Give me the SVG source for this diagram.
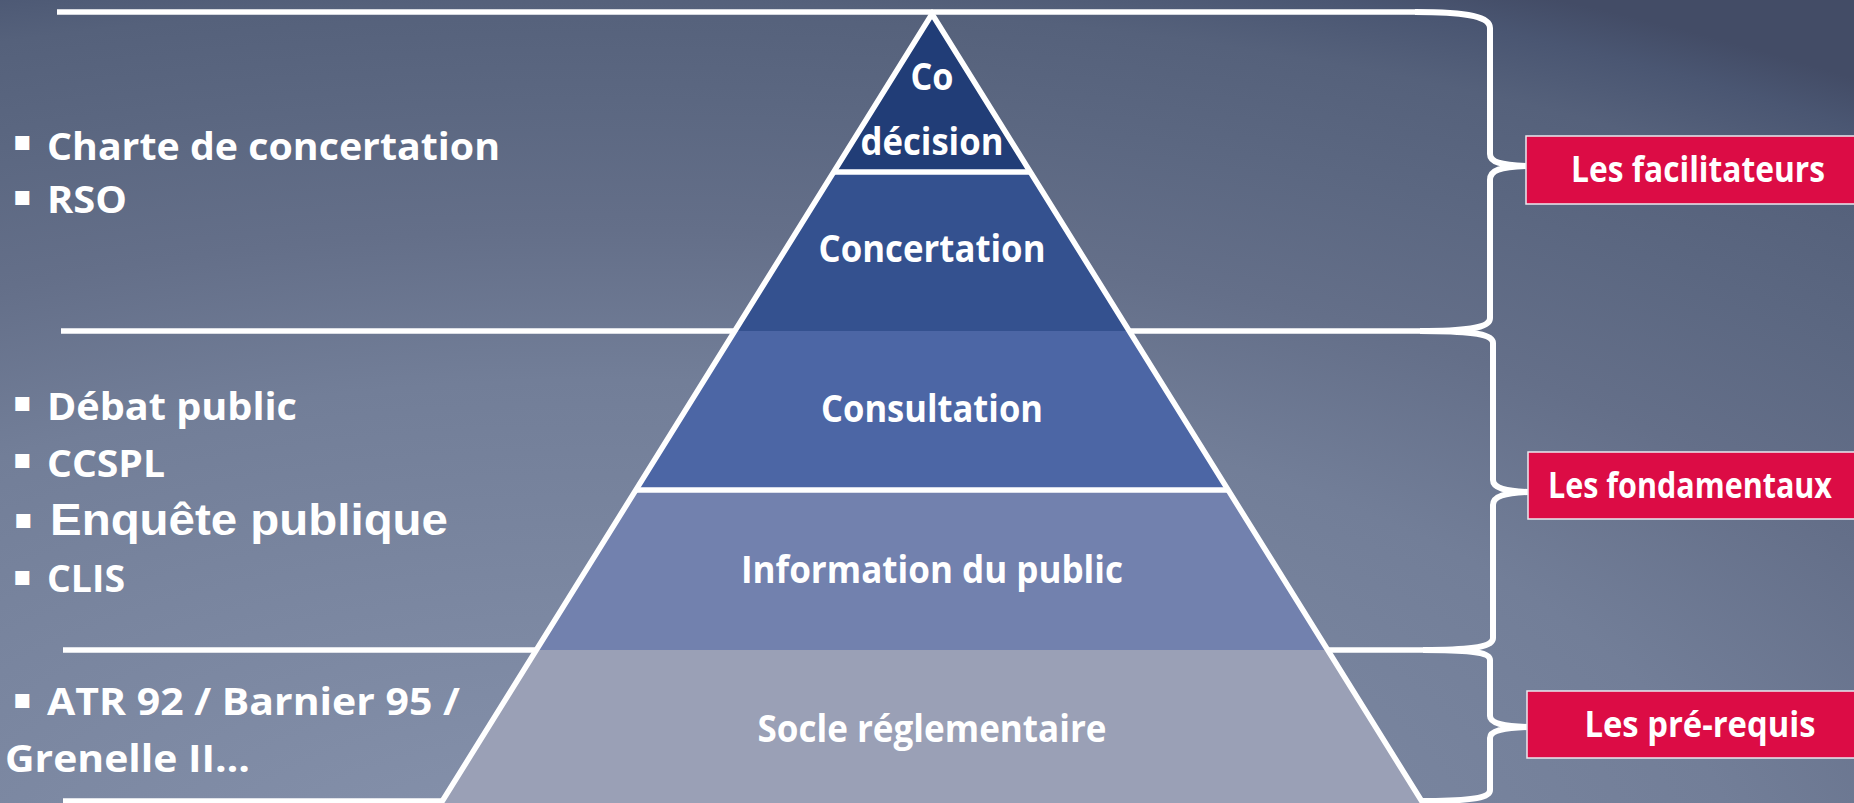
<svg xmlns="http://www.w3.org/2000/svg" width="1854" height="803" viewBox="0 0 1854 803">
<defs>
<radialGradient id="bg" gradientUnits="userSpaceOnUse" cx="0" cy="0" r="1" gradientTransform="translate(600 900) scale(2200 1000)">
<stop offset="0" stop-color="#8894AE"/>
<stop offset="0.52" stop-color="#727E98"/>
<stop offset="0.67" stop-color="#646F89"/>
<stop offset="0.8" stop-color="#5B6781"/>
<stop offset="0.9" stop-color="#55617B"/>
<stop offset="0.96" stop-color="#4A5672"/>
<stop offset="1" stop-color="#434C66"/>
</radialGradient>
<style>
.lbl{font-family:"Open Sans","Noto Sans","Liberation Sans",sans-serif;font-weight:bold;fill:#FFFFFF;}
.pl{font-size:38px;text-anchor:middle;}
.lt{font-size:38px;}
.bt{font-size:35px;text-anchor:middle;}
.enq{font-family:"Liberation Sans",Arial,sans-serif;font-weight:bold;fill:#FFFFFF;font-size:45px;}
.bul{font-family:"DejaVu Sans",sans-serif;fill:#FFFFFF;font-size:28px;}
.wl{stroke:#FFFFFF;stroke-width:5.5;fill:none;}
.brace{stroke:#FFFFFF;stroke-width:6;fill:none;stroke-linejoin:round;}
.box{fill:#DC0C45;}
.boxedge{fill:none;stroke:#E9E9EF;stroke-width:1.5;}
</style>
</defs>
<rect x="0" y="0" width="1854" height="803" fill="url(#bg)"/>

<g id="guides">
<line class="wl" x1="57" y1="12" x2="1416" y2="12"/>
<line class="wl" x1="61" y1="331" x2="1421" y2="331"/>
<line class="wl" x1="63" y1="650" x2="1424" y2="650"/>
<line class="wl" x1="63" y1="801" x2="1421" y2="801"/>
</g>

<g id="pyramid">
<g id="layer-codecision">
<polygon points="932,14 833.6,172 1030.4,172" fill="#213D77"/>
<text class="lbl pl" x="932" y="90" textLength="43" lengthAdjust="spacingAndGlyphs">Co</text>
<text class="lbl pl" x="932" y="155" textLength="143" lengthAdjust="spacingAndGlyphs">décision</text>
</g>
<g id="layer-concertation">
<polygon points="833.6,172 1030.4,172 1129.5,331 734.5,331" fill="#34518F"/>
<text class="lbl pl" x="932" y="262" textLength="227" lengthAdjust="spacingAndGlyphs">Concertation</text>
</g>
<g id="layer-consultation">
<polygon points="734.5,331 1129.5,331 1228.5,490 635.5,490" fill="#4C66A5"/>
<text class="lbl pl" x="932" y="422" textLength="222" lengthAdjust="spacingAndGlyphs">Consultation</text>
</g>
<g id="layer-information">
<polygon points="635.5,490 1228.5,490 1328.2,650 535.8,650" fill="#7281AE"/>
<text class="lbl pl" x="932" y="583" textLength="382" lengthAdjust="spacingAndGlyphs">Information du public</text>
</g>
<g id="layer-socle">
<polygon points="535.8,650 1328.2,650 1423.5,803 440.5,803" fill="#9AA0B6"/>
<text class="lbl pl" x="932" y="742" textLength="349" lengthAdjust="spacingAndGlyphs">Socle réglementaire</text>
</g>
<g id="pyramid-outline">
<polyline class="wl" points="440.5,804 932,14 1423.5,804" stroke-linejoin="miter"/>
<line class="wl" x1="833.6" y1="172" x2="1030.4" y2="172"/>
<line class="wl" x1="635.5" y1="490" x2="1228.5" y2="490"/>
</g>
</g>

<g id="left-top">
<text class="bul" x="13" y="150">▪</text>
<text class="lbl lt" x="47" y="160" textLength="453" lengthAdjust="spacingAndGlyphs">Charte de concertation</text>
<text class="bul" x="13" y="205">▪</text>
<text class="lbl lt" x="47" y="213" textLength="80" lengthAdjust="spacingAndGlyphs">RSO</text>
</g>

<g id="left-middle">
<text class="bul" x="13" y="411">▪</text>
<text class="lbl lt" x="47" y="420" textLength="250" lengthAdjust="spacingAndGlyphs">Débat public</text>
<text class="bul" x="13" y="468">▪</text>
<text class="lbl lt" x="47" y="477" textLength="118" lengthAdjust="spacingAndGlyphs">CCSPL</text>
<text class="bul" x="14" y="528" font-size="31">▪</text>
<text class="enq" x="50" y="535" textLength="398" lengthAdjust="spacingAndGlyphs">Enquête publique</text>
<text class="bul" x="13" y="585">▪</text>
<text class="lbl lt" x="47" y="592" textLength="78" lengthAdjust="spacingAndGlyphs">CLIS</text>
</g>

<g id="left-bottom">
<text class="bul" x="13" y="708">▪</text>
<text class="lbl lt" x="47" y="715" textLength="413" lengthAdjust="spacingAndGlyphs">ATR 92 / Barnier 95 /</text>
<text class="lbl lt" x="5" y="772" textLength="245" lengthAdjust="spacingAndGlyphs">Grenelle II…</text>
</g>

<g id="connectors">
<path class="brace" d="M1415,12 C1470,12 1490,17 1490,28 L1490,154 C1490,162 1500,165 1527,166 C1500,167 1490,170 1490,180 L1490,318 C1490,326 1478,331 1420,331"/>
<path class="brace" d="M1420,331 C1478,331 1493,335 1493,343 L1493,480 C1493,488 1505,491 1528,492 C1505,493 1493,496 1493,505 L1493,638 C1493,646 1478,650 1423,650"/>
<path class="brace" d="M1423,650 C1478,650 1490,653 1490,660 L1490,716 C1490,723 1503,726 1527,727 C1503,728 1490,731 1490,738 L1490,790 C1490,797 1478,801 1420,801"/>
</g>

<g id="box-facilitateurs">
<rect class="box" x="1526" y="136" width="328" height="68"/>
<polyline class="boxedge" points="1854,136 1526,136 1526,204 1854,204"/>
<text class="lbl bt" x="1698" y="182" textLength="254" lengthAdjust="spacingAndGlyphs">Les facilitateurs</text>
</g>
<g id="box-fondamentaux">
<rect class="box" x="1528" y="452" width="326" height="67"/>
<polyline class="boxedge" points="1854,452 1528,452 1528,519 1854,519"/>
<text class="lbl bt" x="1690" y="498" font-size="32" textLength="284" lengthAdjust="spacingAndGlyphs">Les fondamentaux</text>
</g>
<g id="box-prerequis">
<rect class="box" x="1527" y="691" width="327" height="67"/>
<polyline class="boxedge" points="1854,691 1527,691 1527,758 1854,758"/>
<text class="lbl bt" x="1700" y="737" textLength="231" lengthAdjust="spacingAndGlyphs">Les pré-requis</text>
</g>
</svg>
